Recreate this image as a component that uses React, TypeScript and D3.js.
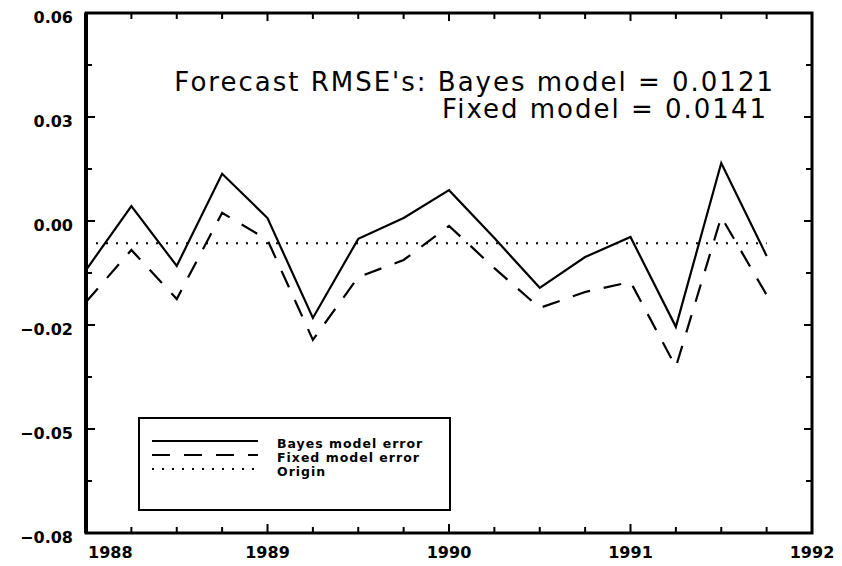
import React, { useEffect, useRef } from 'react';
import { select, scaleLinear, line, format } from 'd3';

// quarterly forecast errors, 1988Q1 .. 1991Q4
const quarters = [
  1988.0, 1988.25, 1988.5, 1988.75,
  1989.0, 1989.25, 1989.5, 1989.75,
  1990.0, 1990.25, 1990.5, 1990.75,
  1991.0, 1991.25, 1991.5, 1991.75,
];
const bayesError = [
  -0.0092, 0.0080, -0.0081, 0.0167,
  0.0048, -0.0221, -0.0008, 0.0048,
  0.0123, -0.0006, -0.0140, -0.0057,
  -0.0003, -0.0245, 0.0196, -0.0054,
];
const fixedError = [
  -0.0178, -0.0038, -0.0170, 0.0062,
  -0.0011, -0.0280, -0.0111, -0.0065,
  0.0027, -0.0087, -0.0194, -0.0151,
  -0.0124, -0.0353, 0.0051, -0.0159,
];
const originLevel = -0.002;

const yTicks = [0.06, 0.032, 0.004, -0.024, -0.052, -0.08];
const xYears = [1988, 1989, 1990, 1991, 1992];

const titleLines = ["Forecast RMSE's: Bayes model = 0.0121", 'Fixed model = 0.0141'];
const legendItems = [
  { label: 'Bayes model error', dash: 'none' },
  { label: 'Fixed model error', dash: '18,14' },
  { label: 'Origin', dash: '2,8' },
];

const W = 842;
const H = 566;

export default function App() {
  const svgRef = useRef<SVGSVGElement>(null);

  useEffect(() => {
    if (!svgRef.current) return;
    const svg = select(svgRef.current);
    svg.html('');

    const margin = { top: 13, right: 30, bottom: 33, left: 86 };
    const x = scaleLinear().domain([1988, 1992]).range([margin.left, W - margin.right]);
    const y = scaleLinear().domain([-0.08, 0.06]).range([H - margin.bottom, margin.top]);
    const [x0, x1] = x.range();
    const [y0, y1] = y.range();

    const tickFont = 'DejaVu Sans, sans-serif';
    const fmt = format('.2f');

    // minor ticks halfway between the major ones
    const yMinor = yTicks.slice(0, -1).map((t, i) => (t + yTicks[i + 1]) / 2);
    const xMinor: number[] = [];
    xYears.slice(0, -1).forEach(yr => [0.25, 0.5, 0.75].forEach(q => xMinor.push(yr + q)));

    const ticks = svg.append('g').attr('stroke', '#000').attr('stroke-width', 2);
    yTicks.forEach(t => {
      ticks.append('line').attr('x1', x0).attr('x2', x0 + 9).attr('y1', y(t)).attr('y2', y(t));
      ticks.append('line').attr('x1', x1).attr('x2', x1 - 8).attr('y1', y(t)).attr('y2', y(t));
    });
    yMinor.forEach(t => {
      ticks.append('line').attr('x1', x0).attr('x2', x0 + 6).attr('y1', y(t)).attr('y2', y(t));
      ticks.append('line').attr('x1', x1).attr('x2', x1 - 6).attr('y1', y(t)).attr('y2', y(t));
    });
    xYears.forEach(t => {
      ticks.append('line').attr('x1', x(t)).attr('x2', x(t)).attr('y1', y0).attr('y2', y0 - 9);
      ticks.append('line').attr('x1', x(t)).attr('x2', x(t)).attr('y1', y1).attr('y2', y1 + 8);
    });
    xMinor.forEach(t => {
      ticks.append('line').attr('x1', x(t)).attr('x2', x(t)).attr('y1', y0).attr('y2', y0 - 6);
      ticks.append('line').attr('x1', x(t)).attr('x2', x(t)).attr('y1', y1).attr('y2', y1 + 6);
    });

    // frame
    svg.append('rect')
      .attr('x', x0).attr('y', y1)
      .attr('width', x1 - x0).attr('height', y0 - y1)
      .attr('fill', 'none').attr('stroke', '#000').attr('stroke-width', 3);
    svg.append('line')
      .attr('x1', x0).attr('x2', x0).attr('y1', y1).attr('y2', y0)
      .attr('stroke', '#000').attr('stroke-width', 4);

    // tick labels
    svg.append('g').selectAll('text').data(yTicks).enter().append('text')
      .attr('x', 73).attr('y', d => y(d) + 10)
      .attr('text-anchor', 'end')
      .style('font-family', tickFont).style('font-weight', 'bold').style('font-size', '16px')
      .text(d => fmt(d).replace('−', '\u2212'));

    svg.append('g').selectAll('text').data(xYears).enter().append('text')
      .attr('x', (d, i) => (i === 0 ? x(d) + 2 : x(d)))
      .attr('y', 558)
      .attr('text-anchor', (d, i) => (i === 0 ? 'start' : 'middle'))
      .style('font-family', tickFont).style('font-weight', 'bold').style('font-size', '16px')
      .text(d => String(d));

    // series
    const pts = (vals: number[]) => quarters.map((q, i) => [q, vals[i]] as [number, number]);
    const path = line<[number, number]>().x(d => x(d[0])).y(d => y(d[1]));

    svg.append('line')
      .attr('x1', x(quarters[0])).attr('x2', x(quarters[quarters.length - 1]))
      .attr('y1', y(originLevel)).attr('y2', y(originLevel))
      .attr('stroke', '#000').attr('stroke-width', 2).attr('stroke-dasharray', '2,8');

    svg.append('path').attr('d', path(pts(fixedError)))
      .attr('fill', 'none').attr('stroke', '#000').attr('stroke-width', 2.2)
      .attr('stroke-dasharray', '18,14');

    svg.append('path').attr('d', path(pts(bayesError)))
      .attr('fill', 'none').attr('stroke', '#000').attr('stroke-width', 2.2);

    // RMSE annotation
    const title = svg.append('g')
      .style('font-family', tickFont).style('font-size', '26px').style('letter-spacing', '2px');
    title.append('text').attr('x', 775).attr('y', 91).attr('text-anchor', 'end').text(titleLines[0]);
    title.append('text').attr('x', 768).attr('y', 118).attr('text-anchor', 'end').text(titleLines[1]);

    // legend
    const lg = svg.append('g');
    lg.append('rect').attr('x', 139).attr('y', 418).attr('width', 311).attr('height', 92)
      .attr('fill', '#fff').attr('stroke', '#000').attr('stroke-width', 2);
    legendItems.forEach((it, i) => {
      const ly = 441 + i * 14;
      lg.append('line').attr('x1', 152).attr('x2', 258).attr('y1', ly).attr('y2', ly)
        .attr('stroke', '#000').attr('stroke-width', 2)
        .attr('stroke-dasharray', it.dash);
      lg.append('text').attr('x', 277).attr('y', ly + 7)
        .style('font-family', tickFont).style('font-weight', 'bold').style('font-size', '12.5px')
        .style('letter-spacing', '1px')
        .text(it.label);
    });
  }, []);

  return (
    <svg ref={svgRef} width={W} height={H}
      style={{ position: 'absolute', left: 0, top: 0, background: '#fff' }} />
  );
}
